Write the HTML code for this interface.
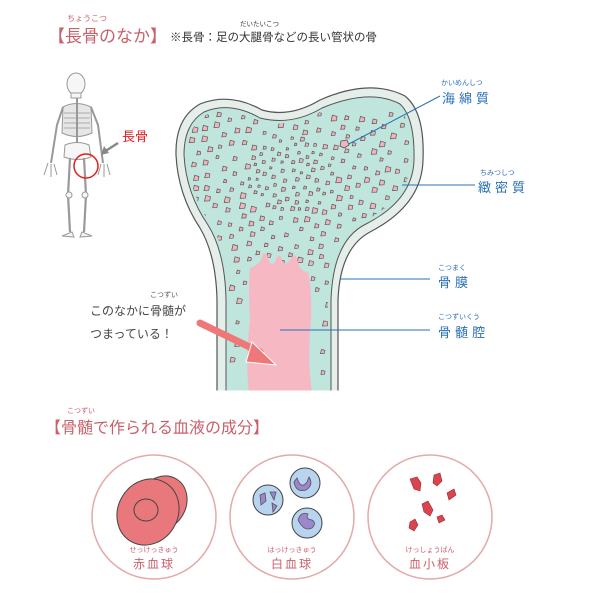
<!DOCTYPE html>
<html><head><meta charset="utf-8"><style>
html,body{margin:0;padding:0;background:#fff;}
svg{display:block;}
text{font-family:"Liberation Sans","Noto Sans CJK JP",sans-serif;}
</style></head><body>
<svg id="s" width="600" height="593" viewBox="0 0 600 593" xmlns="http://www.w3.org/2000/svg">
<defs>
<clipPath id="cp"><path d="M229 392 L229 300 Q228 252 211 225 Q189 193 187 155 Q187 126 206 115 Q230 104 260 121 Q292 129 322 111 Q370 91 398 107 Q412 120 411 160 Q410 198 364 221 Q330 238 328 300 L328 392 Z"/></clipPath>
</defs>
<!-- title -->
<text x="67" y="21" font-size="8" fill="#c9606a">ちょうこつ</text>
<text x="48" y="42" font-size="17" fill="#c9606a">【長骨のなか】</text>
<text x="170" y="41" font-size="11.5" fill="#333">※長骨：足の大腿骨などの長い管状の骨</text>
<text x="240" y="26" font-size="6.5" fill="#333">だいたいこつ</text>

<!-- skeleton -->
<g stroke="#999" fill="#f6f6f6" stroke-width="1">
<ellipse cx="76" cy="84" rx="9" ry="11"/>
<rect x="71" y="93" width="10" height="5"/>
<path d="M63 107 Q76 100 91 107 L92 133 Q77 140 62 133 Z" fill="#e6e6e6"/>
<path d="M64 113 H90 M64 118 H90 M64 123 H90 M64 128 H90" stroke="#aaa" fill="none"/>
<line x1="77" y1="98" x2="77" y2="148" stroke-width="2"/>
<path d="M65 145 Q77 140 89 145 L91 157 Q78 162 64 157 Z"/>
<path d="M63 107 L57 125 L51 163 M91 107 L98 125 L103 163" fill="none" stroke-width="2"/>
<path d="M48 163 l-4 12 M51 164 l0 13 M54 164 l3 11 M101 164 l-3 11 M104 164 l0 13 M107 164 l3 11" fill="none"/>
<path d="M70 158 L68 195 L70 232 M84 158 L86 195 L84 232" fill="none" stroke-width="2.2"/>
<circle cx="69" cy="195" r="3"/><circle cx="85" cy="195" r="3"/>
<path d="M62 236 l10 -4 l2 5 Z M92 236 l-10 -4 l-2 5 Z"/>
</g>
<circle cx="86" cy="166" r="12" fill="none" stroke="#e02020" stroke-width="1.5"/>
<text x="122" y="141" font-size="13" fill="#e02020">長骨</text>
<path d="M118 143 L104 152" stroke="#888" stroke-width="2.5"/>
<path d="M101 155 L104 146 L109 153 Z" fill="#888"/>

<!-- bone -->
<path d="M217 392 L217 300 Q216 255 200 228 Q178 195 176 155 Q175 118 200 104 Q230 92 262 110 Q290 118 320 100 Q370 78 405 96 Q425 112 423 160 Q422 205 370 232 Q340 248 338 300 L338 392 Z" fill="#e6eeea" stroke="#555" stroke-width="1.2"/>
<path d="M226 392 L226 300 Q225 252 208 225 Q186 193 184 155 Q184 124 204 112 Q230 101 260 118 Q292 126 322 108 Q370 88 400 104 Q415 118 414 160 Q413 200 366 224 Q333 240 331 300 L331 392 Z" fill="#bfe5dc" stroke="#555" stroke-width="1"/>
<g id="dots" fill="#f3b3bd" stroke="#555" stroke-width="0.7" clip-path="url(#cp)"></g>
<path d="M249 392 Q245 360 250 320 Q248 290 250 268 Q258 266 262 258 Q262 250 267 255 Q270 268 275 262 Q278 252 281 257 Q284 268 290 260 Q295 250 298 262 Q300 272 308 272 Q312 290 311 320 Q307 360 312 392 Z" fill="#f6b9c3"/>
<line x1="215" y1="392" x2="340" y2="392" stroke="#fff" stroke-width="3"/>

<!-- labels -->
<g fill="#2a6fb5">
<text x="441" y="85" font-size="7">かいめんしつ</text>
<text x="442" y="103" font-size="13" letter-spacing="4">海綿質</text>
<text x="480" y="175" font-size="7">ちみつしつ</text>
<text x="478" y="192" font-size="13" letter-spacing="4">緻密質</text>
<text x="438" y="270" font-size="7">こつまく</text>
<text x="438" y="287" font-size="13" letter-spacing="4">骨膜</text>
<text x="438" y="319" font-size="7">こつずいくう</text>
<text x="438" y="337" font-size="13" letter-spacing="4">骨髄腔</text>
</g>
<g stroke="#2a6fb5" stroke-width="1">
<line x1="440" y1="96" x2="345" y2="146"/>
<line x1="402" y1="185" x2="475" y2="185"/>
<line x1="340" y1="279" x2="430" y2="279"/>
<line x1="280" y1="330" x2="430" y2="330"/>
</g>
<path d="M341 141 l6 -1 l2 5 l-5 3 l-4 -2 Z" fill="#f3b3bd" stroke="#555" stroke-width="0.8"/>

<text x="150" y="297" font-size="7" fill="#555">こつずい</text>
<text x="90" y="315" font-size="12" fill="#444">このなかに骨髄が</text>
<text x="90" y="338" font-size="12" fill="#444">つまっている！</text>
<path d="M200 323 L260 352" stroke="#e77" stroke-width="7" stroke-linecap="round"/>
<path d="M252 342 L276 365 L246 362 Z" fill="#e77" stroke="#fff" stroke-width="1"/>

<!-- section 2 -->
<text x="67" y="413" font-size="7" fill="#c9606a">こつずい</text>
<text x="45" y="433" font-size="16" fill="#c9606a">【骨髄で作られる血液の成分】</text>
<g fill="#fff" stroke="#e3aaaa" stroke-width="1.5">
<circle cx="154" cy="517" r="62"/><circle cx="292" cy="517" r="62"/><circle cx="430" cy="517" r="62"/>
</g>
<ellipse cx="162" cy="503" rx="24" ry="28" fill="#e8787b" stroke="#444" stroke-width="1" transform="rotate(30 162 503)"/>
<ellipse cx="148" cy="512" rx="30" ry="34" fill="#e8787b" stroke="#444" stroke-width="1" transform="rotate(30 148 512)"/>
<ellipse cx="146" cy="510" rx="12" ry="11" fill="none" stroke="#444" stroke-width="1"/>
<g fill="#b8d4ee" stroke="#444" stroke-width="1">
<circle cx="268" cy="500" r="15"/><circle cx="305" cy="483" r="15"/><circle cx="307" cy="523" r="15"/>
</g>
<g fill="#9c86cc" stroke="#555" stroke-width="0.8">
<path d="M260 495 l5 -2 l1 8 l-5 4 Z M270 492 l6 0 l-2 8 Z M272 503 l5 3 l-4 6 Z"/>
<path d="M297 478 q4 12 10 4 l2 -5 q5 8 -3 13 q-10 3 -12 -8 Z"/>
<path d="M298 520 q3 -9 10 -6 q-3 5 4 6 q5 3 0 8 q-8 4 -14 -8 Z"/>
</g>
<g fill="#d8454f" stroke="#a02830" stroke-width="0.6">
<path d="M410 479 l7 -2 l4 6 l-1 8 l-6 -2 Z"/>
<path d="M434 475 l6 -2 l2 8 l-5 5 l-4 -3 Z"/>
<path d="M447 493 l7 -4 l2 6 l-7 5 Z"/>
<path d="M422 504 l6 -3 l5 9 l-3 6 l-6 -4 Z"/>
<path d="M437 517 l5 -2 l3 5 l-6 3 Z"/>
<path d="M410 522 l5 -3 l3 6 l-4 6 l-5 -3 Z"/>
</g>
<g fill="#c9606a" text-anchor="middle">
<text x="154" y="552" font-size="7">せっけっきゅう</text>
<text x="154" y="568" font-size="12" letter-spacing="2">赤血球</text>
<text x="292" y="552" font-size="7">はっけっきゅう</text>
<text x="292" y="568" font-size="12" letter-spacing="2">白血球</text>
<text x="430" y="552" font-size="7">けっしょうばん</text>
<text x="430" y="568" font-size="12" letter-spacing="2">血小板</text>
</g>
</svg>
<script>
(function(){
var g=document.getElementById('dots');var seed=11;
function r(){seed=(seed*16807)%2147483647;return seed/2147483647;}
var ns='http://www.w3.org/2000/svg';var n=0,t=0;var pts=[];
while(n<280&&t<20000){t++;
var x=190+r()*218,y=114+r()*260;
if(y>240&&(x<229||x>328))continue;
var dx=x-292,dy=(y-175)*1.2;var d=Math.sqrt(dx*dx+dy*dy);
var minD=d<45?7:10;
if(y>290)minD=16;
var bad=false;for(var i=0;i<pts.length;i++){var a=pts[i][0]-x,b=pts[i][1]-y;if(a*a+b*b<minD*minD){bad=true;break;}}
if(bad)continue;
if(y>300&&x>238&&x<320)continue;
pts.push([x,y]);
var s=d<45?2+r()*1.8:2.8+r()*2.6;
var p=document.createElementNS(ns,'path');
p.setAttribute('d','M'+x.toFixed(1)+' '+(y-s/2).toFixed(1)+' l'+(s*0.9).toFixed(1)+' '+(s*0.25).toFixed(1)+' l'+(-0.15*s).toFixed(1)+' '+(s*0.8).toFixed(1)+' l'+(-s).toFixed(1)+' '+(0.05*s).toFixed(1)+' Z');
g.appendChild(p);n++;}
})();
</script>
</body></html>
